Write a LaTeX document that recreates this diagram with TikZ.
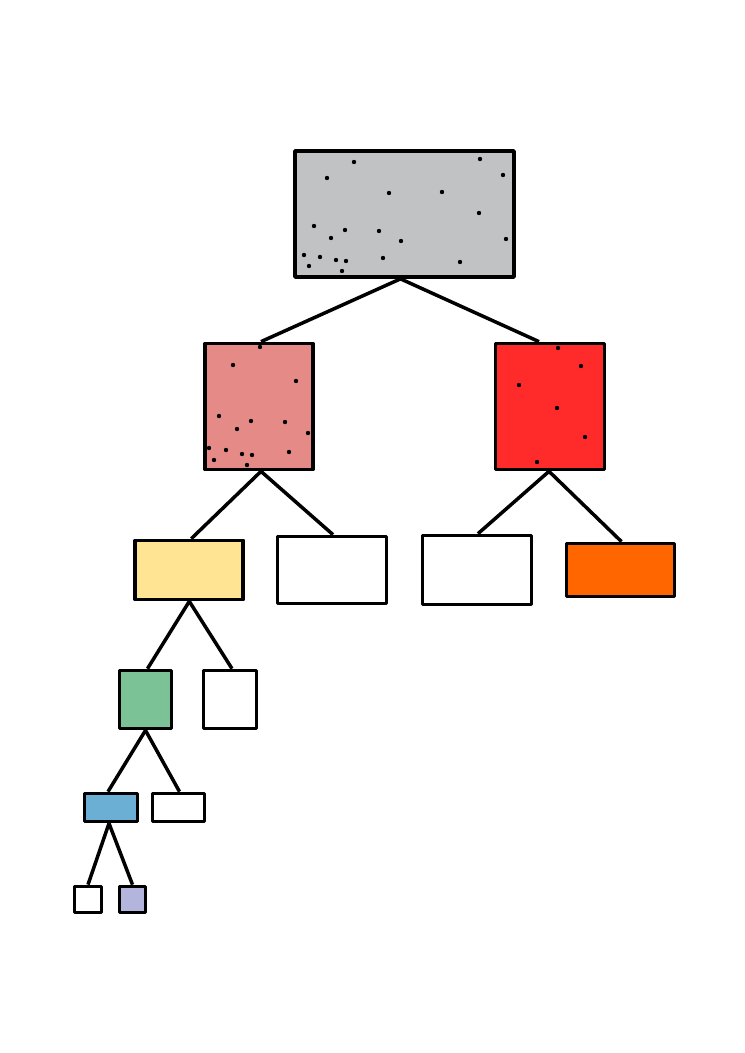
\documentclass[tikz,border=0pt]{standalone}
\usetikzlibrary{arrows.meta}
\definecolor{rootgrey}{HTML}{C1C2C4}
\definecolor{splitpink}{HTML}{E68A88}
\definecolor{splitred}{HTML}{FF2B2B}
\definecolor{leafyellow}{HTML}{FFE593}
\definecolor{leaforange}{HTML}{FF6600}
\definecolor{leafgreen}{HTML}{7BC396}
\definecolor{leafblue}{HTML}{6CAFD4}
\definecolor{leafpurple}{HTML}{B3B5DD}
\tikzset{
  box/.style={draw, line width=3.7bp, line join=round, inner sep=0pt, fill=white},
  branch/.style={line width=3.5bp}
}

\begin{document}
\begin{tikzpicture}[x=1bp, y=-1bp]
	\useasboundingbox (0,0) rectangle (745,1053);
	% boxes
	\node [box, fill=rootgrey, minimum width=219bp, minimum height=126bp] (root) at (404.5,214) {};
	\node [box, fill=splitpink, minimum width=108bp, minimum height=126bp] (pink) at (259,406.5) {};
	\node [box, fill=splitred, minimum width=109bp, minimum height=126bp] (red) at (550,406.5) {};
	\node [box, fill=leafyellow, minimum width=108bp, minimum height=59bp] (yellow) at (189.3,570) {};
	\node [box, minimum width=109bp, minimum height=67bp] (pinkright) at (332,570) {};
	\node [box, minimum width=109bp, minimum height=69bp] (redleft) at (477,570) {};
	\node [box, fill=leaforange, minimum width=108bp, minimum height=53bp] (orange) at (620.5,570) {};
	\node [box, fill=leafgreen, minimum width=52bp, minimum height=58bp] (green) at (145.5,699.5) {};
	\node [box, minimum width=53bp, minimum height=58bp] (yellowright) at (230,699.5) {};
	\node [box, fill=leafblue, minimum width=53bp, minimum height=28bp] (blue) at (111,807.5) {};
	\node [box, minimum width=52bp, minimum height=28bp] (greenright) at (178.5,807.5) {};
	\node [box, minimum width=27bp, minimum height=26bp] (blueleft) at (88,899.5) {};
	\node [box, fill=leafpurple, minimum width=26bp, minimum height=26bp] (purple) at (132.5,899.5) {};
	% branches
	\draw [branch] ([xshift=-4bp]root.south) -- ([xshift=2bp]pink.north);
	\draw [branch] ([xshift=-4bp]root.south) -- ([xshift=-11bp]red.north);
	\draw [branch] ([xshift=2bp]pink.south) -- ([xshift=2bp]yellow.north);
	\draw [branch] ([xshift=2bp]pink.south) -- ([xshift=1bp]pinkright.north);
	\draw [branch] ([xshift=-1bp]red.south) -- ([xshift=1bp]redleft.north);
	\draw [branch] ([xshift=-1bp]red.south) -- ([xshift=1bp]orange.north);
	\draw [branch] (yellow.south) -- ([xshift=2bp]green.north);
	\draw [branch] (yellow.south) -- ([xshift=2bp]yellowright.north);
	\draw [branch] (green.south) -- ([xshift=-3bp]blue.north);
	\draw [branch] (green.south) -- ([xshift=1bp]greenright.north);
	\draw [branch] ([xshift=-2bp]blue.south) -- (blueleft.north);
	\draw [branch] ([xshift=-2bp]blue.south) -- (purple.north);
	% points
	\foreach \x/\y in {354/162, 480/159, 327/178, 503/175, 389/193, 442/192, 479/213,
		314/226, 345/230, 379/231, 331/238, 401/241, 506/239, 304/255, 320/257,
		336/260, 346/261, 383/258, 460/262, 309/266, 342/271}
	\fill (\x,\y) circle [radius = 2.2bp];
	\foreach \x/\y in {260/347, 233/365, 296/381, 219/416, 251/421, 285/422, 237/429,
		308/433, 209/448, 226/450, 242/454, 252/455, 289/452, 214/460, 247/465}
	\fill (\x,\y) circle [radius = 2.2bp];
	\foreach \x/\y in {558/348, 581/366, 519/385, 557/408, 585/437, 537/462}
	\fill (\x,\y) circle [radius = 2.2bp];
\end{tikzpicture}
\end{document}
